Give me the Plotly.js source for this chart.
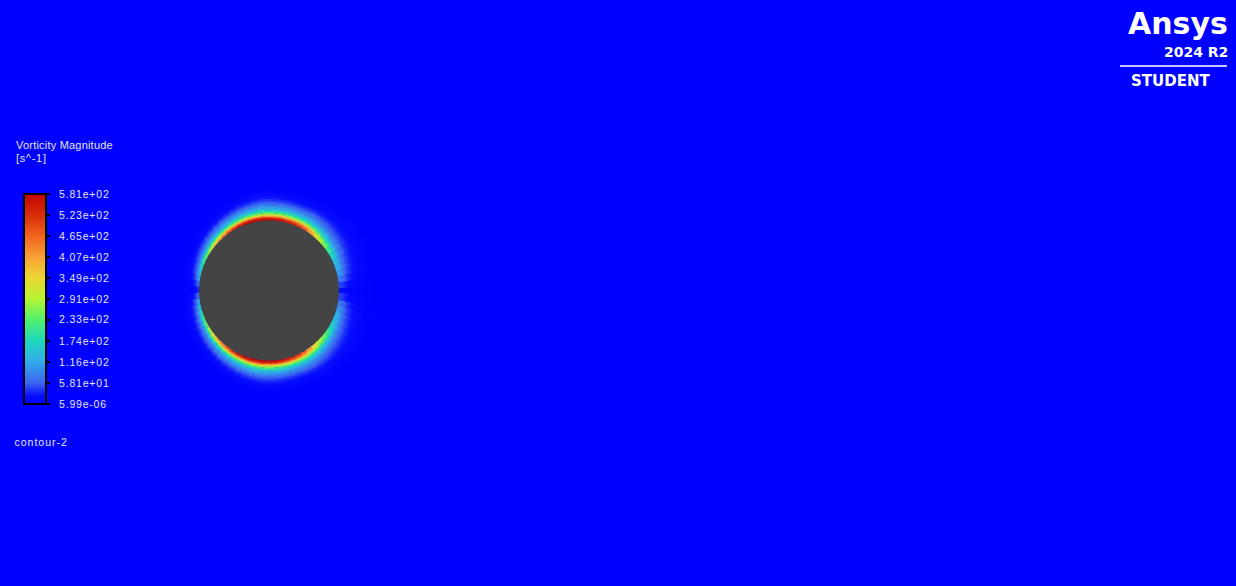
<!DOCTYPE html>
<html>
<head>
<meta charset="utf-8">
<script src="https://cdn.plot.ly/plotly-3.0.1.min.js"></script>
<style>
  html, body { margin: 0; padding: 0; background: #0000ff; overflow: hidden; }
  #chart { width: 1236px; height: 586px; }
  .colorbar text { letter-spacing: 0.8px; }
  .annotation[data-index="0"] text { letter-spacing: 0.2px; }
  .annotation[data-index="1"] text { letter-spacing: 0.7px; }
  .annotation[data-index="2"] text { letter-spacing: 1px; }
</style>
</head>
<body>
<div id="chart"></div>
<script>
// ---------------- data ----------------
// wall angle measured from the rear (+x) of the cylinder, counter-clockwise, upper half (mirrored below)
const wallAngleDeg = [0,5,10,15,20,25,30,35,40,45,50,55,60,65,70,75,80,85,90,95,100,105,110,115,120,125,130,135,140,145,150,155,160,165,170,175,180];
// vorticity magnitude at the wall [s^-1]
const wallVorticity = [17,46,81,105,128,151,186,221,261,302,360,418,476,511,535,552,564,569,575,581,581,580,569,552,523,488,447,407,360,308,267,232,198,163,122,70,35];
// boundary-layer thickness (in cylinder radii) where vorticity falls to ~half
const layerThickness = [0.129,0.129,0.129,0.129,0.125,0.121,0.118,0.114,0.110,0.106,0.102,0.097,0.093,0.089,0.086,0.086,0.086,0.086,0.086,0.086,0.083,0.080,0.077,0.074,0.071,0.069,0.066,0.064,0.063,0.061,0.060,0.059,0.057,0.057,0.057,0.057,0.057];
// radial profile: band edges (in local thicknesses from wall) and fraction of wall vorticity in each band
const profileDepth = [0,0.2,0.4,0.6,0.8,1.0,1.2,1.4,1.6,1.8,2.0,2.3,2.6,2.9,3.2,3.6,4.0,4.5,5.0];
const profileFraction = [0.99,0.95,0.86,0.72,0.58,0.47,0.39,0.33,0.28,0.23,0.19,0.15,0.12,0.09,0.065,0.045,0.028,0.014];
const cylinderRadius = 1;
const cylinderSectors = [0, 45, 90, 135, 180, 225, 270, 315];

// colorbar
const vortMin = 5.99e-6;
const vortMax = 581;
const tickValues = [5.99e-6, 58.1, 116, 174, 233, 291, 349, 407, 465, 523, 581];
const tickLabels = ['5.99e-06','5.81e+01','1.16e+02','1.74e+02','2.33e+02','2.91e+02','3.49e+02','4.07e+02','4.65e+02','5.23e+02','5.81e+02'];
const legendTitle = ['Vorticity Magnitude', '[s^-1]'];
const contourName = 'contour-2';

// ---------------- styles ----------------
const fluentScale = [
  [0.00, 'rgb(0,0,255)'],
  [0.04, 'rgb(8,14,252)'],
  [0.10, 'rgb(60,100,240)'],
  [0.20, 'rgb(50,170,235)'],
  [0.30, 'rgb(30,215,190)'],
  [0.40, 'rgb(80,240,110)'],
  [0.50, 'rgb(180,245,50)'],
  [0.60, 'rgb(235,215,50)'],
  [0.70, 'rgb(250,160,55)'],
  [0.80, 'rgb(240,100,30)'],
  [0.90, 'rgb(215,45,10)'],
  [1.00, 'rgb(195,5,0)']
];
const W = 1236, H = 586;
const cx = 269, cy = 290.5, Rpx = 126;   // pixel layout of polar area
const rMax = 1.8;
const txtColor = '#e6e6f2';
const txtFont = 'Liberation Sans, Arial, sans-serif';
const labelPad = '\u00a0\u00a0';

// ---------------- build the bar table ----------------
const step = 5;
const overlapDeg = 1.2;      // slight overlap so wedges show no seams
const overlapR = 0.006;
const nAng = 360 / step;
const thetaArr = [], baseArr = [], rArr = [], valArr = [];
for (let k = 0; k < nAng; k++) {
  const th = k * step;
  const h = k <= nAng / 2 ? k : nAng - k;
  const w = wallVorticity[h];
  const s = layerThickness[h];
  for (let j = 0; j < profileFraction.length; j++) {
    thetaArr.push(th);
    baseArr.push(cylinderRadius + profileDepth[j] * s);
    rArr.push((profileDepth[j + 1] - profileDepth[j]) * s + overlapR);
    valArr.push(w * profileFraction[j]);
  }
}

const cylinder = {
  type: 'barpolar',
  theta: cylinderSectors, r: cylinderSectors.map(() => cylinderRadius), base: 0, width: 94,
  marker: { color: '#444444', line: { width: 0 } },
  hoverinfo: 'skip', showlegend: false
};

const field = {
  type: 'barpolar',
  theta: thetaArr, r: rArr, base: baseArr, width: step + overlapDeg,
  marker: {
    color: valArr, colorscale: fluentScale, cmin: vortMin, cmax: vortMax,
    line: { width: 0 },
    showscale: true,
    colorbar: {
      x: 24 / W, xanchor: 'left', xref: 'paper',
      y: 1 - 299 / H, yanchor: 'middle', yref: 'paper',
      len: 210, lenmode: 'pixels',
      thickness: 22, thicknessmode: 'pixels',
      xpad: 0, ypad: 0,
      outlinecolor: '#000000', outlinewidth: 2,
      bgcolor: 'rgba(0,0,0,0)', borderwidth: 0,
      tickmode: 'array', tickvals: tickValues, ticktext: tickLabels.map(t => labelPad + t),
      ticks: 'outside', ticklen: 3, tickwidth: 1.5, tickcolor: '#000000',
      tickfont: { family: txtFont, size: 10.5, color: txtColor }
    }
  },
  hoverinfo: 'skip', showlegend: false
};

const layout = {
  width: W, height: H,
  margin: { l: 0, r: 0, t: 0, b: 0, pad: 0 },
  paper_bgcolor: '#0000ff',
  plot_bgcolor: '#0000ff',
  showlegend: false,
  dragmode: false,
  polar: {
    domain: { x: [(cx - Rpx) / W, (cx + Rpx) / W], y: [1 - (cy + Rpx) / H, 1 - (cy - Rpx) / H] },
    bgcolor: 'rgba(0,0,0,0)',
    barmode: 'overlay',
    bargap: 0,
    radialaxis: { range: [0, rMax], visible: false, showgrid: false, showline: false, showticklabels: false, ticks: '' },
    angularaxis: { visible: false, rotation: 0, direction: 'counterclockwise', showgrid: false, showline: false, showticklabels: false, ticks: '' }
  },
  annotations: [
    { text: legendTitle[0], x: 15.8 / W, y: 1 - 145 / H, xref: 'paper', yref: 'paper', xanchor: 'left', yanchor: 'middle', showarrow: false, font: { family: txtFont, size: 11, color: txtColor } },
    { text: legendTitle[1], x: 16.1 / W, y: 1 - 158 / H, xref: 'paper', yref: 'paper', xanchor: 'left', yanchor: 'middle', showarrow: false, font: { family: txtFont, size: 11, color: txtColor } },
    { text: contourName, x: 16.5 / W, y: 1 - 442 / H, xref: 'paper', yref: 'paper', xanchor: 'left', yanchor: 'middle', showarrow: false, font: { family: txtFont, size: 10.5, color: txtColor } },
    { text: '<b>Ansys</b>', x: 1230 / W, y: 1 - 23 / H, xref: 'paper', yref: 'paper', xanchor: 'right', yanchor: 'middle', showarrow: false, font: { family: 'DejaVu Sans', size: 30, color: '#ffffff' } },
    { text: '<b>2024 R2</b>', x: 1230 / W, y: 1 - 52 / H, xref: 'paper', yref: 'paper', xanchor: 'right', yanchor: 'middle', showarrow: false, font: { family: 'DejaVu Sans', size: 14, color: '#ffffff' } },
    { text: '<b>STUDENT</b>', x: 1170 / W, y: 1 - 81 / H, xref: 'paper', yref: 'paper', xanchor: 'center', yanchor: 'middle', showarrow: false, font: { family: 'DejaVu Sans', size: 15, color: '#ffffff' } }
  ],
  shapes: [
    { type: 'line', xref: 'paper', yref: 'paper', x0: 1120 / W, x1: 1227 / W, y0: 1 - 66 / H, y1: 1 - 66 / H, line: { color: '#c8c8ff', width: 2 } }
  ]
};

Plotly.newPlot('chart', [cylinder, field], layout, { staticPlot: true, displayModeBar: false });
</script>
</body>
</html>
